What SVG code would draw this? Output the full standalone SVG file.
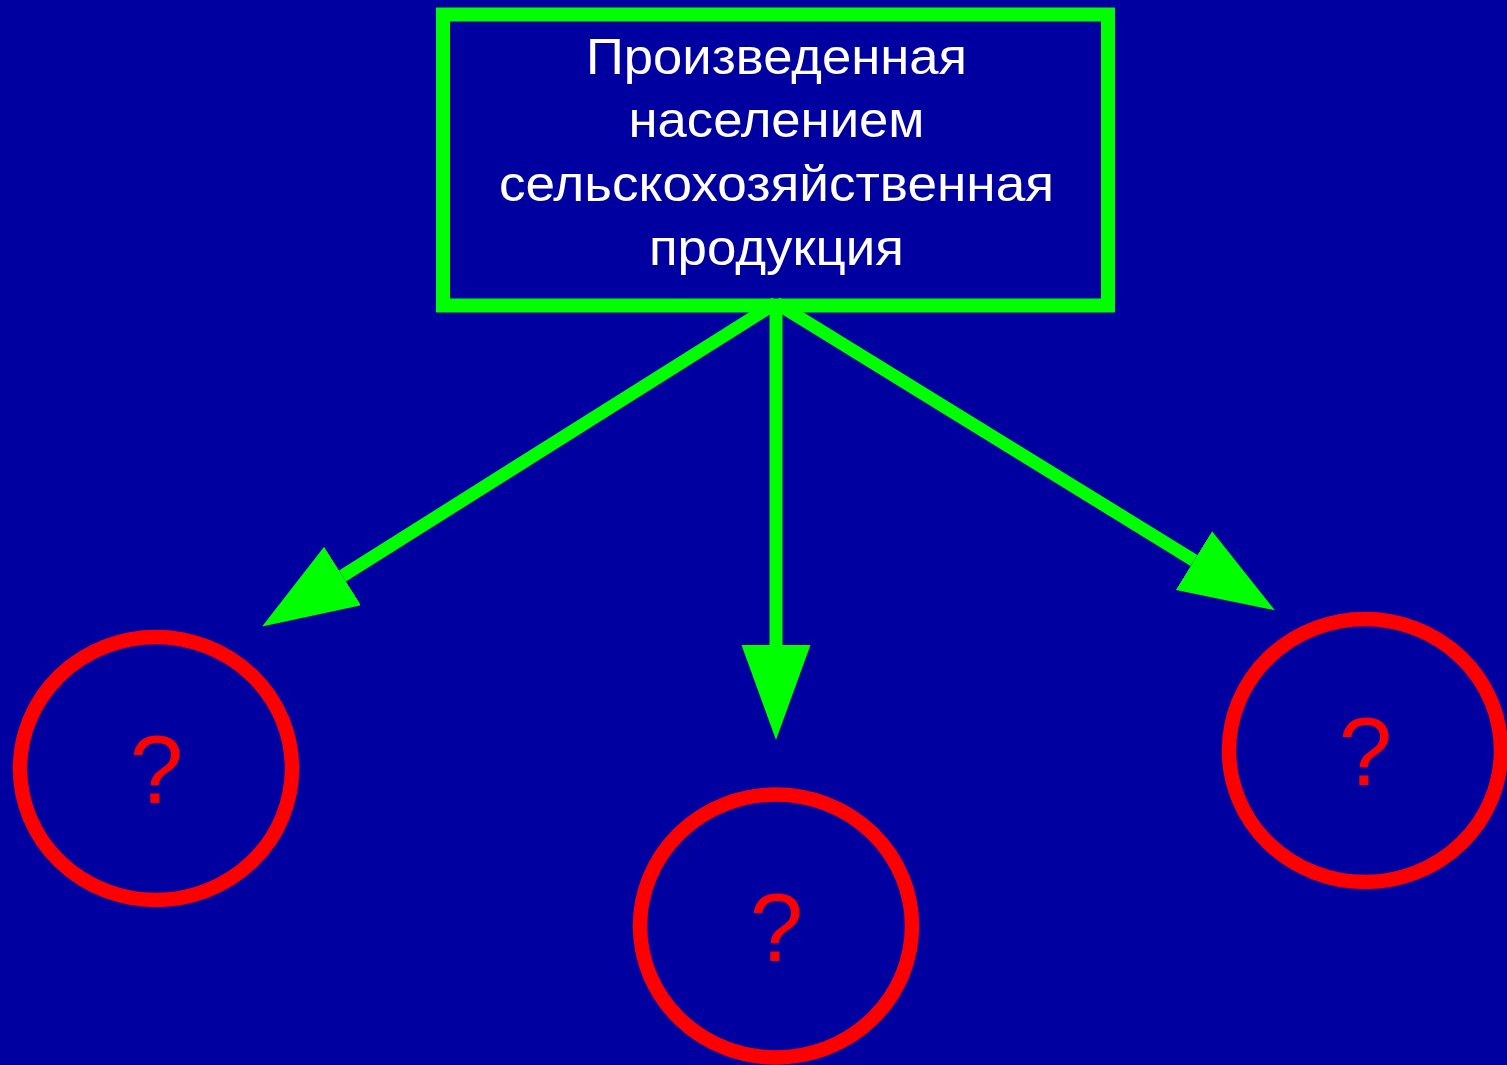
<svg xmlns="http://www.w3.org/2000/svg" width="1507" height="1065" viewBox="0 0 1507 1065">
<style>
.box{fill:none;stroke:#00FF00;stroke-width:14}
.t{font-family:"Liberation Sans",Arial,sans-serif;font-size:50px;fill:#FFFFFF;text-anchor:middle}
.conn{stroke:#00FF00;stroke-width:13;fill:none}
.circ{fill:none;stroke:#FF0000;stroke-width:14.5}
.q{font-family:"Liberation Sans",Arial,sans-serif;font-size:96px;fill:#FF0000;text-anchor:middle}
</style>
<defs>
<marker id="ah" markerUnits="userSpaceOnUse" markerWidth="96" markerHeight="70" viewBox="0 0 96 70" refX="0" refY="34.5" orient="auto">
<path d="M0,0 L95,34.5 L0,69 Z" fill="#00FF00"/>
</marker>
</defs>
<rect width="1507" height="1065" fill="#0000A0"/>
<g id="connectors">
<line class="conn" x1="776" y1="303" x2="342.5" y2="576" marker-end="url(#ah)"/>
<line class="conn" x1="776" y1="303" x2="776" y2="645" marker-end="url(#ah)"/>
<line class="conn" x1="776" y1="303" x2="1194" y2="560.5" marker-end="url(#ah)"/>
</g>
<g id="source">
<rect class="box" x="443" y="14.5" width="665" height="291"/>
<text class="t" x="776.5" y="73.5" textLength="381" lengthAdjust="spacingAndGlyphs">Произведенная</text>
<text class="t" x="776.5" y="137" textLength="296" lengthAdjust="spacingAndGlyphs">населением</text>
<text class="t" x="776.5" y="201" textLength="555" lengthAdjust="spacingAndGlyphs">сельскохозяйственная</text>
<text class="t" x="776.5" y="265" textLength="255" lengthAdjust="spacingAndGlyphs">продукция</text>
</g>
<g id="q1">
<ellipse class="circ" cx="156" cy="768.5" rx="136" ry="131.5"/>
<text class="q" x="156.5" y="803">?</text>
</g>
<g id="q2">
<ellipse class="circ" cx="776" cy="926" rx="136" ry="131.5"/>
<text class="q" x="776.5" y="961">?</text>
</g>
<g id="q3">
<ellipse class="circ" cx="1365" cy="750.5" rx="136" ry="131.5"/>
<text class="q" x="1365.5" y="785">?</text>
</g>
</svg>
